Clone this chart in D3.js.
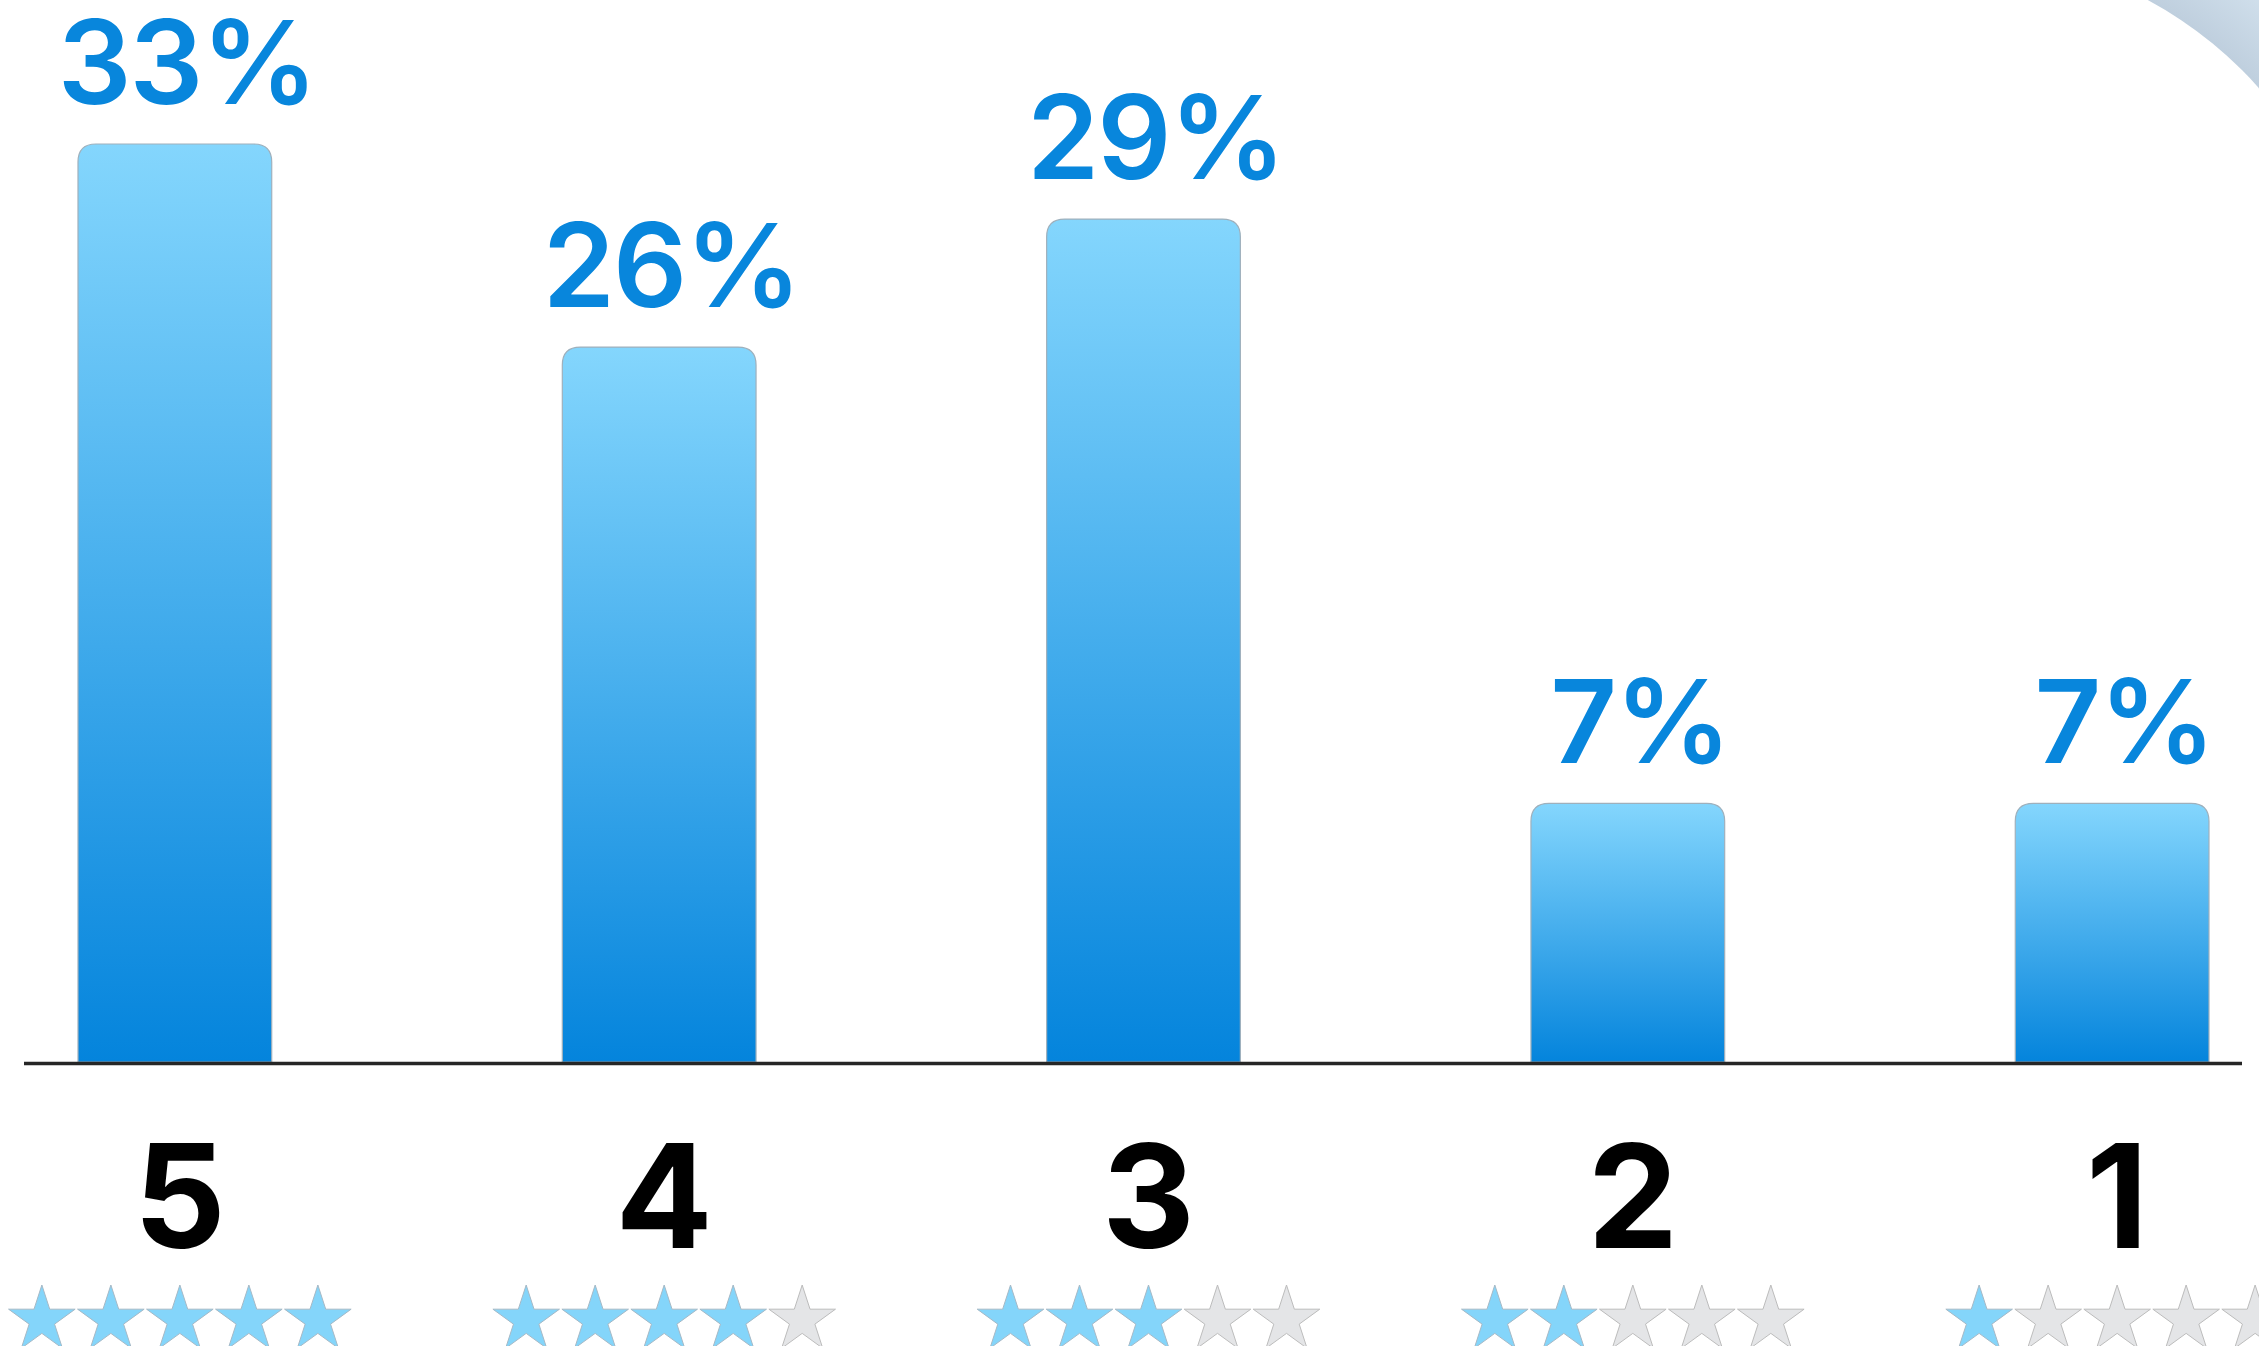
<!DOCTYPE html>
<html>
<head>
<meta charset="utf-8">
<script src="https://cdn.jsdelivr.net/npm/d3@7"></script>
<style>
  html, body { margin: 0; padding: 0; background: #fff; overflow: hidden; }
</style>
</head>
<body>
<svg id="chart"></svg>
<script>
// rating categories, printed share and bar level as drawn (percent units)
var categories = ['5', '4', '3', '2', '1'];
var shares = [33, 26, 29, 7, 7];
var barValues = [33, 25.7, 30.3, 9.3, 9.3];
var starCounts = [5, 4, 3, 2, 1];

var width = 2259, height = 1346;
var baseY = 1062;

var svg = d3.select('#chart')
	.attr('width', width)
	.attr('height', height);

var defs = svg.append('defs');

var barGrad = defs.append('linearGradient')
	.attr('id', 'barGrad')
	.attr('x1', 0).attr('y1', 0)
	.attr('x2', 0).attr('y2', 1);
barGrad.append('stop').attr('offset', 0).attr('stop-color', '#84d6fd');
barGrad.append('stop').attr('offset', 1).attr('stop-color', '#0484dc');

var cornerGrad = defs.append('radialGradient')
	.attr('id', 'cornerGrad')
	.attr('gradientUnits', 'userSpaceOnUse')
	.attr('cx', 1957).attr('cy', 355).attr('r', 560);
cornerGrad.append('stop').attr('offset', 0.72).attr('stop-color', '#bfcfde');
cornerGrad.append('stop').attr('offset', 0.85).attr('stop-color', '#d2e1ed');
cornerGrad.append('stop').attr('offset', 1).attr('stop-color', '#dbe8f3');

// corner decoration (background outside the white panel)
svg.append('rect')
	.attr('x', 2100).attr('y', 0)
	.attr('width', 159).attr('height', 120)
	.attr('fill', 'url(#cornerGrad)');
svg.append('circle')
	.attr('cx', 1957).attr('cy', 355).attr('r', 403)
	.attr('fill', '#fff');

var x = d3.scaleBand()
	.domain(categories)
	.range([78, 2209])
	.paddingInner(0.6)
	.paddingOuter(0);

var y = d3.scaleLinear()
	.domain([0, 33])
	.range([baseY, 144]);

var bw = x.bandwidth();
var rr = 18;

function barPath(d, i) {
	var x0 = x(categories[i]), x1 = x0 + bw;
	var top = y(barValues[i]);
	return 'M' + x0 + ',' + baseY +
		'V' + (top + rr) +
		'Q' + x0 + ',' + top + ' ' + (x0 + rr) + ',' + top +
		'H' + (x1 - rr) +
		'Q' + x1 + ',' + top + ' ' + x1 + ',' + (top + rr) +
		'V' + baseY + 'Z';
}

svg.append('g')
	.attr('class', 'bars')
	.selectAll('path')
	.data(categories)
	.enter().append('path')
	.attr('d', barPath)
	.attr('fill', 'url(#barGrad)')
	.attr('stroke', '#9fb0bc')
	.attr('stroke-width', 1.2);

// percent labels
svg.append('g')
	.attr('class', 'labels')
	.selectAll('text')
	.data(categories)
	.enter().append('text')
	.attr('x', function(d) { return x(d) + bw / 2 + 12; })
	.attr('y', function(d, i) { return y(barValues[i]) - 40; })
	.attr('text-anchor', 'middle')
	.style('font-family', 'Inter, "Liberation Sans", sans-serif')
	.style('font-weight', 600)
	.style('font-size', '116px')
	.style('letter-spacing', '-2px')
	.style('fill', '#0886dc')
	.text(function(d, i) { return shares[i] + '%'; });

// baseline
svg.append('line')
	.attr('x1', 24).attr('x2', 2242)
	.attr('y1', baseY + 1.5).attr('y2', baseY + 1.5)
	.attr('stroke', '#262626')
	.attr('stroke-width', 3.5);

// category numbers
svg.append('g')
	.attr('class', 'cats')
	.selectAll('text')
	.data(categories)
	.enter().append('text')
	.attr('x', function(d) { return x(d) + bw / 2 + 5; })
	.attr('y', 1248)
	.attr('text-anchor', 'middle')
	.style('font-family', 'Inter, "Liberation Sans", sans-serif')
	.style('font-weight', 700)
	.style('font-size', '144px')
	.style('fill', '#000')
	.text(function(d) { return d; });

// star rows
var starR = 35, starGap = 69;
var star = d3.symbol().type(d3.symbolStar).size(starR * starR / 0.8908130915292852)();

var rows = svg.append('g')
	.attr('class', 'stars')
	.selectAll('g')
	.data(categories)
	.enter().append('g')
	.attr('transform', function(d) { return 'translate(' + (x(d) + bw / 2 + 5) + ',1320)'; });

rows.selectAll('path')
	.data(function(d, i) { return d3.range(5).map(function(k) { return k < starCounts[i]; }); })
	.enter().append('path')
	.attr('d', star)
	.attr('transform', function(d, k) { return 'translate(' + ((k - 2) * starGap) + ',0)'; })
	.attr('fill', function(d) { return d ? '#84d5fa' : '#e4e5e7'; })
	.attr('stroke', function(d) { return d ? '#a6b9c6' : '#bcbcbc'; })
	.attr('stroke-width', 1);
</script>
</body>
</html>
